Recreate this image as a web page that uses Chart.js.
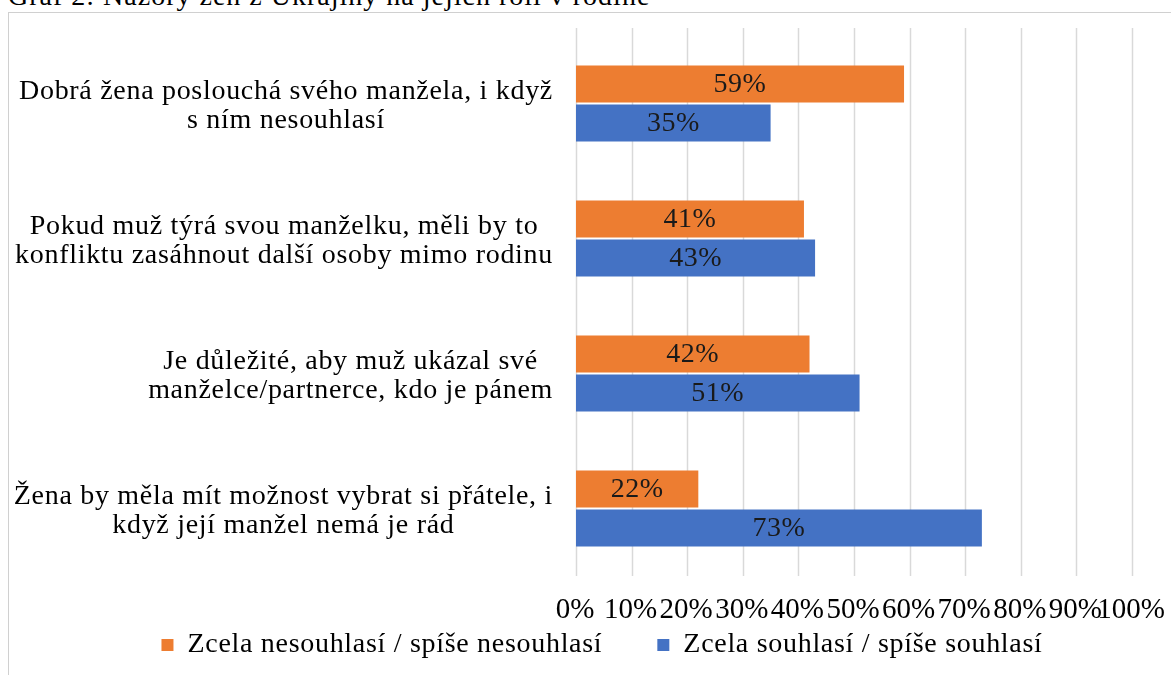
<!DOCTYPE html>
<html lang="cs">
<head>
<meta charset="utf-8">
<title>Graf 2</title>
<script src="https://cdn.jsdelivr.net/npm/chart.js@4.4.1/dist/chart.umd.min.js"></script>
<style>
    html, body { margin: 0; padding: 0; background: #fff; overflow: hidden; }
    body { width: 1171px; height: 675px; position: relative; font-family: "Liberation Serif", "Times New Roman", serif; }
    #title { position: absolute; left: 8px; top: -18px; font-size: 28px; line-height: 28px; letter-spacing: 1px; color: #000; white-space: nowrap; }
    #frame { position: absolute; left: 8px; top: 12px; width: 1200px; height: 700px; border-left: 1px solid #d0d0d0; border-top: 1px solid #d0d0d0; }
    #chart { position: absolute; left: 9px; top: 13px; }
</style>
</head>
<body>
<div id="title">Graf 2: Názory žen z Ukrajiny na jejich roli v rodině</div>
<div id="frame"></div>
<canvas id="chart" width="1162" height="662"></canvas>
<script>
// --- Daten ---

const statements = [
    ["Dobrá žena poslouchá svého manžela, i když", "s ním nesouhlasí"],
    ["Pokud muž týrá svou manželku, měli by to", "konfliktu zasáhnout další osoby mimo rodinu"],
    ["Je důležité, aby muž ukázal své", "manželce/partnerce, kdo je pánem"],
    ["Žena by měla mít možnost vybrat si přátele, i", "když její manžel nemá je rád"]
];
const disagreeLabel = "Zcela nesouhlasí / spíše nesouhlasí";
const agreeLabel = "Zcela souhlasí / spíše souhlasí";
const disagreeValues = [59, 41, 42, 22];
const agreeValues = [35, 43, 51, 73];
const percentTicks = [0, 10, 20, 30, 40, 50, 60, 70, 80, 90, 100];

const serif = "'Liberation Serif', 'Times New Roman', serif";

// --- Plugins ---

// etwas weitere Laufweite wie im Original (gilt auch für die Legende)
const spacingPlugin = {
    id: "letterSpacing",
    beforeLayout(chart) {
        chart.ctx.letterSpacing = "0.7px";
    },
    beforeDraw(chart) {
        chart.ctx.letterSpacing = "0.7px";
    }
};

// Gitterlinien etwas über die Zeichenfläche hinaus
const gridPlugin = {
    id: "gridLines",
    beforeDatasetsDraw(chart) {
        const ctx = chart.ctx;
        const xScale = chart.scales.x;
        const area = chart.chartArea;
        ctx.save();
        ctx.strokeStyle = "#d9d9d9";
        ctx.lineWidth = 1.5;
        percentTicks.forEach(value => {
            const x = Math.round(xScale.getPixelForValue(value)) + 0.5;
            ctx.beginPath();
            ctx.moveTo(x, area.top - 8);
            ctx.lineTo(x, area.bottom);
            ctx.stroke();
        });
        ctx.restore();
    }
};

// Achsenbeschriftungen: Kategorien rechtsbündig mit zentrierten Zeilen, Prozente darunter
const axisLabelPlugin = {
    id: "axisLabels",
    afterDraw(chart) {
        const ctx = chart.ctx;
        const yScale = chart.scales.y;
        const xScale = chart.scales.x;
        const right = chart.chartArea.left - 23;
        const lineHeight = 29;
        ctx.save();
        ctx.fillStyle = "#000";
        ctx.textAlign = "center";
        ctx.textBaseline = "middle";

        ctx.font = "28px " + serif;
        ctx.letterSpacing = "0.7px";
        statements.forEach((lines, i) => {
            const widest = Math.max(...lines.map(l => ctx.measureText(l).width));
            const cx = right - widest / 2;
            const cy = yScale.getPixelForTick(i) + 3;
            lines.forEach((line, j) => {
                ctx.fillText(line, cx, cy + (j - (lines.length - 1) / 2) * lineHeight);
            });
        });

        ctx.font = "29px " + serif;
        ctx.letterSpacing = "0px";
        percentTicks.forEach(value => {
            ctx.fillText(value + "%", xScale.getPixelForValue(value) - 1, chart.chartArea.bottom + 34);
        });
        ctx.restore();
    }
};

// Werte in der Mitte der Balken
const valueLabelPlugin = {
    id: "valueLabels",
    afterDatasetsDraw(chart) {
        const ctx = chart.ctx;
        ctx.save();
        ctx.font = "28px " + serif;
        ctx.letterSpacing = "0.5px";
        ctx.fillStyle = "#1a1a1a";
        ctx.textAlign = "center";
        ctx.textBaseline = "middle";
        chart.data.datasets.forEach((dataset, d) => {
            chart.getDatasetMeta(d).data.forEach((bar, i) => {
                ctx.fillText(dataset.data[i] + "%", (bar.x + bar.base) / 2, bar.y + 1);
            });
        });
        ctx.restore();
    }
};

// --- Diagramm ---

const ctx = document.getElementById("chart").getContext("2d");
const chart = new Chart(ctx, {
    type: "bar",
    data: {
        labels: statements,
        datasets: [
            {
                label: disagreeLabel,
                data: disagreeValues,
                backgroundColor: "#ED7D31",
                categoryPercentage: 0.578,
                barPercentage: 0.95
            },
            {
                label: agreeLabel,
                data: agreeValues,
                backgroundColor: "#4472C4",
                categoryPercentage: 0.578,
                barPercentage: 0.95
            }
        ]
    },
    options: {
        indexAxis: "y",
        responsive: false,
        animation: false,
        devicePixelRatio: 1,
        layout: {
            padding: { top: 23, right: 39, bottom: 6, left: 63 }
        },
        scales: {
            x: {
                min: 0,
                max: 100,
                ticks: { display: false, stepSize: 10 },
                grid: { display: false, drawTicks: false },
                border: { display: false },
                afterFit(scale) {
                    scale.height = 0;
                }
            },
            y: {
                ticks: { display: false },
                grid: { display: false, drawTicks: false },
                border: { display: false },
                afterFit(scale) {
                    scale.width = 504;
                }
            }
        },
        plugins: {
            legend: {
                position: "bottom",
                labels: {
                    boxWidth: 12,
                    boxHeight: 12,
                    padding: 55,
                    color: "#000",
                    font: { family: serif, size: 28 }
                }
            },
            tooltip: { enabled: false }
        }
    },
    plugins: [spacingPlugin, gridPlugin, axisLabelPlugin, valueLabelPlugin]
});
</script>
</body>
</html>
